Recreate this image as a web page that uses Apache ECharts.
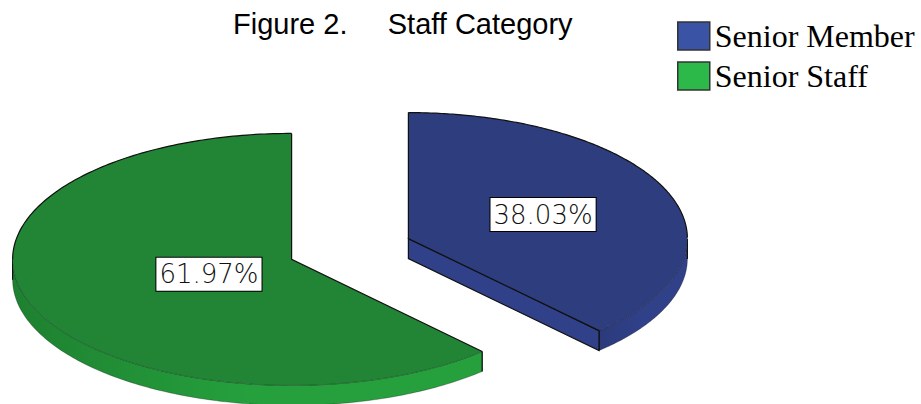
<!DOCTYPE html>
<html>
<head>
<meta charset="utf-8">
<script src="https://cdn.jsdelivr.net/npm/echarts@6/dist/echarts.min.js"></script>
<style>html,body{margin:0;padding:0;background:#fff}#c{width:921px;height:404px}</style>
</head>
<body>
<div id="c"></div>
<script>
// ---- data ----
const categories = ['Senior Member', 'Senior Staff'];
const values = [38.03, 61.97];
const labelTexts = ['38.03%', '61.97%'];

// ---- styles ----
const topColors = ['#2d3d7e', '#218535'];
const sideColors = ['#30418a', '#25a03d'];
const sideEdgeColors = ['#2b3a7a', '#1e8030'];
const legendColors = ['#3b53a5', '#2db84a'];

const total = values.reduce((a, b) => a + b, 0);
const DEG = Math.PI / 180;
const GEOM = { cx: 350, cy: 249, rx: 279, ry: 126, h: 20, explode: 0.225, start: 90 };

function renderItem(params, api) {
  const idx = api.value(0);
  const val = api.value(1);
  let before = 0;
  for (let i = 0; i < idx; i++) before += values[i];
  const aHigh = (GEOM.start - before / total * 360) * DEG;
  const aLow = (GEOM.start - (before + val) / total * 360) * DEG;
  const mid = (aHigh + aLow) / 2;
  const half = (aHigh - aLow) / 2;
  const rx = GEOM.rx, ry = GEOM.ry, h = GEOM.h;
  const ox = GEOM.cx + GEOM.explode * rx * Math.cos(mid);
  const oy = GEOM.cy - GEOM.explode * ry * Math.sin(mid);
  const P = (a, dz) => [ox + rx * Math.cos(a), oy - ry * Math.sin(a) + dz];

  const children = [];
  const N = 240;
  const angles = [];
  for (let i = 0; i <= N; i++) angles.push(aLow + (aHigh - aLow) * i / N);

  // visible rim runs (front half: sin < 0)
  let run = [];
  const runs = [];
  angles.forEach(a => {
    if (Math.sin(a) < 0.0001) run.push(a);
    else { if (run.length > 1) runs.push(run); run = []; }
  });
  if (run.length > 1) runs.push(run);
  runs.forEach(r => {
    const pts = r.map(a => P(a, 0)).concat(r.slice().reverse().map(a => P(a, h)));
    const xs = r.map(a => P(a, 0)[0]);
    const x0 = Math.min(...xs), x1 = Math.max(...xs);
    children.push({
      type: 'polygon',
      shape: { points: pts },
      style: {
        fill: {
          type: 'linear', x: x0, y: 0, x2: x1, y2: 0, global: true,
          colorStops: [
            { offset: 0, color: sideEdgeColors[idx] },
            { offset: 0.5, color: sideColors[idx] },
            { offset: 1, color: sideColors[idx] }
          ]
        },
        stroke: 'rgba(0,0,0,0.35)', lineWidth: 0.8
      }
    });
    [r[0], r[r.length - 1]].forEach(a => {
      const p0 = P(a, 0), p1 = P(a, h);
      children.push({ type: 'line', shape: { x1: p0[0], y1: p0[1], x2: p1[0], y2: p1[1] },
        style: { stroke: '#111', lineWidth: 1.2 } });
    });
  });

  // cut faces
  const faces = [];
  if (Math.cos(aLow) > 0.0001) faces.push(aLow);
  if (Math.cos(aHigh) < -0.0001) faces.push(aHigh);
  faces.forEach(a => {
    children.push({
      type: 'polygon',
      shape: { points: [[ox, oy], P(a, 0), P(a, h), [ox, oy + h]] },
      style: { fill: sideColors[idx], stroke: '#111', lineWidth: 1.2 }
    });
  });

  // top face
  const topPts = [[ox, oy]].concat(angles.map(a => P(a, 0)));
  children.push({ type: 'polygon', shape: { points: topPts }, style: { fill: topColors[idx] } });

  children.push({ type: 'polyline', shape: { points: [P(aLow, 0), [ox, oy], P(aHigh, 0)] },
    style: { stroke: '#111', lineWidth: 1.2, fill: null } });
  let seg = [], segFront = null;
  const flush = () => {
    if (seg.length > 1) children.push({ type: 'polyline', shape: { points: seg.map(a => P(a, 0)) },
      style: { stroke: segFront ? 'rgba(0,0,0,0.3)' : '#111', lineWidth: segFront ? 0.8 : 1.2, fill: null } });
  };
  angles.forEach(a => {
    const front = Math.sin(a) < 0;
    if (segFront === null) segFront = front;
    if (front !== segFront) { seg.push(a); flush(); seg = [a]; segFront = front; }
    else seg.push(a);
  });
  flush();

  // label at sector centroid
  const k = 2 * Math.sin(half) / (3 * half);
  const lx = ox + k * rx * Math.cos(mid);
  const ly = oy - k * ry * Math.sin(mid);
  children.push({
    type: 'text',
    x: lx, y: ly,
    style: {
      text: labelTexts[idx],
      fill: '#111',
      fontFamily: 'DejaVu Sans',
      fontWeight: 200,
      fontSize: 26,
      lineHeight: 30,
      align: 'center',
      verticalAlign: 'middle',
      backgroundColor: '#fff',
      borderColor: '#000',
      borderWidth: 1,
      padding: [2, 3, 1, 3]
    }
  });

  return { type: 'group', children };
}

const chart = echarts.init(document.getElementById('c'), null, { renderer: 'svg' });
chart.setOption({
  animation: false,
  backgroundColor: '#fff',
  title: {
    text: 'Figure 2.\u00a0\u00a0\u00a0\u00a0\u00a0Staff Category',
    left: 233, top: 9, padding: 0,
    textStyle: { fontFamily: 'Liberation Sans', fontSize: 29, fontWeight: 'normal', color: '#000' }
  },
  legend: {
    orient: 'vertical', left: 677, top: 20, padding: 0,
    itemWidth: 32, itemHeight: 28, itemGap: 8, icon: 'rect',
    itemStyle: { borderColor: '#333', borderWidth: 1.5 },
    textStyle: { fontFamily: 'Liberation Serif', fontSize: 32, color: '#000' },
    data: categories
  },
  series: categories.map((name, i) => ({
    type: 'custom',
    name: name,
    coordinateSystem: 'none',
    renderItem: renderItem,
    itemStyle: { color: legendColors[i] },
    data: [[i, values[i]]],
    silent: true
  }))
});
</script>
</body>
</html>
